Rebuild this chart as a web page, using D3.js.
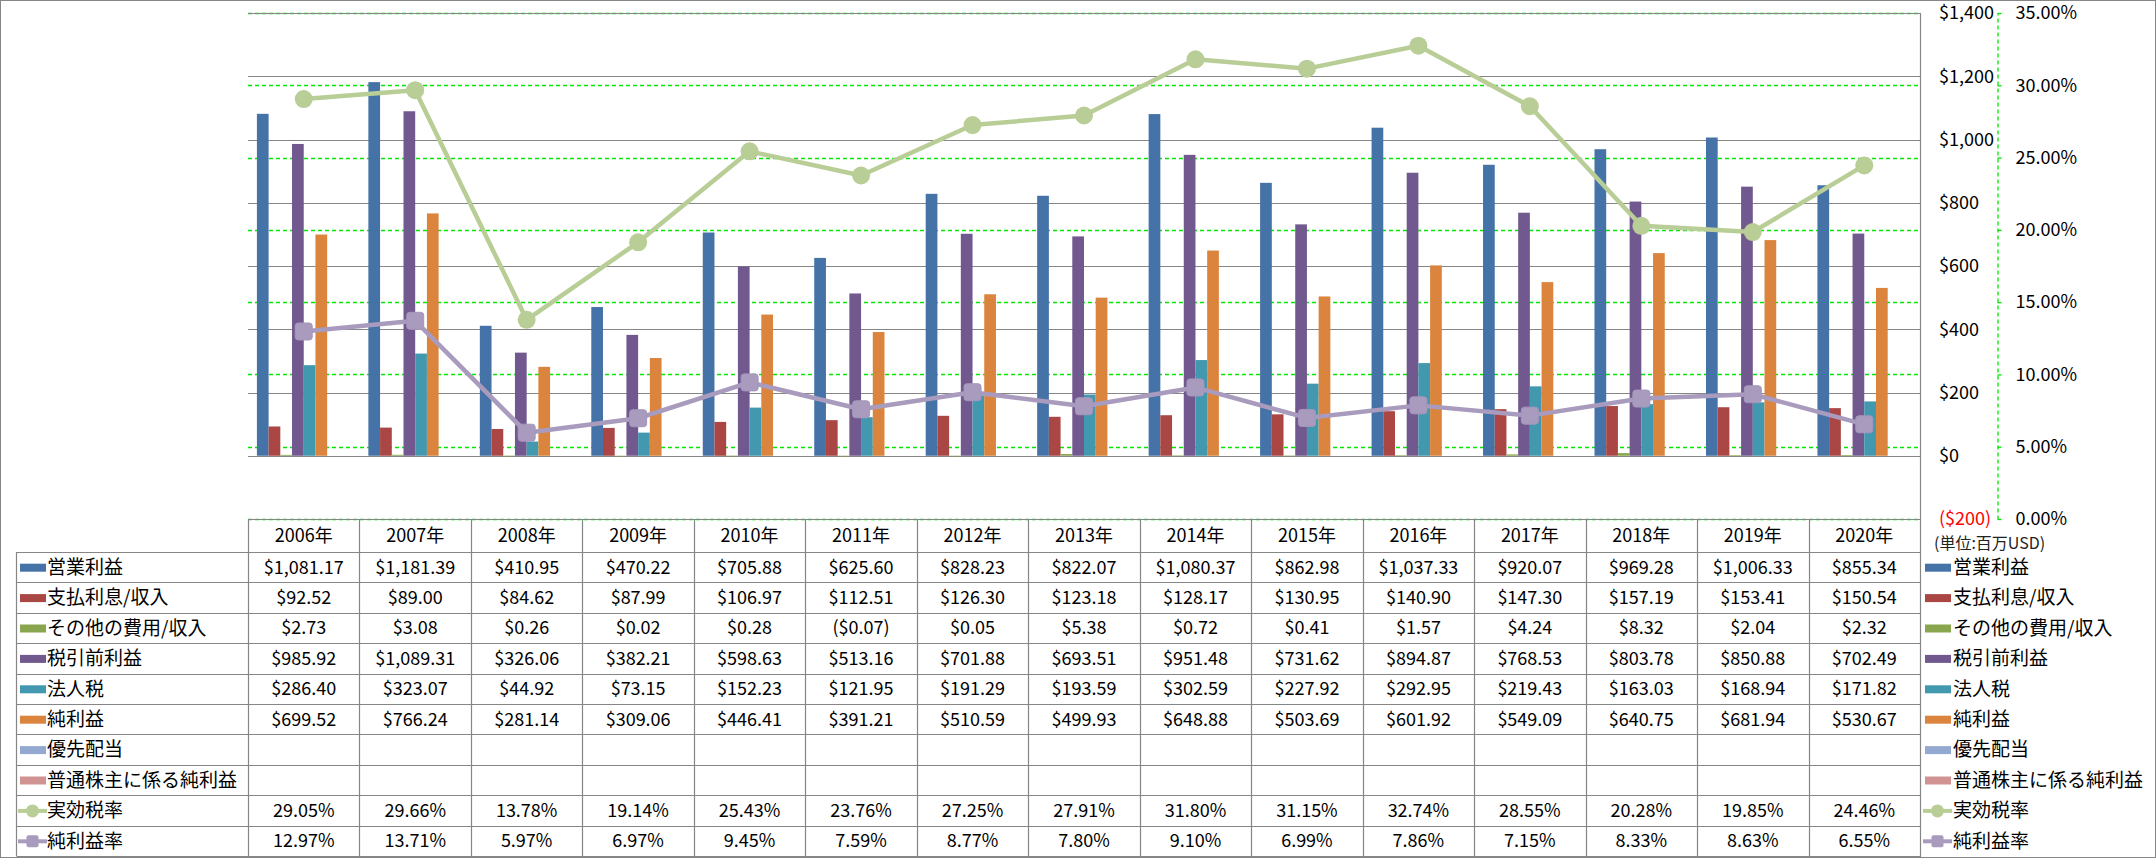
<!DOCTYPE html>
<html><head><meta charset="utf-8">
<script src="https://cdn.jsdelivr.net/npm/d3@7"></script>
<style>html,body{margin:0;padding:0;background:#fff;} svg{display:block;font-family:"Noto Sans CJK JP","Noto Sans",sans-serif;}</style>
</head><body><svg id="c" width="2156" height="858"></svg>
<script>
// ---------- DATA ----------
const years = ["2006年","2007年","2008年","2009年","2010年","2011年","2012年","2013年","2014年","2015年","2016年","2017年","2018年","2019年","2020年"];
const operatingIncome = [1081.17,1181.39,410.95,470.22,705.88,625.60,828.23,822.07,1080.37,862.98,1037.33,920.07,969.28,1006.33,855.34];
const interestExpense = [92.52,89.00,84.62,87.99,106.97,112.51,126.30,123.18,128.17,130.95,140.90,147.30,157.19,153.41,150.54];
const otherExpense = [2.73,3.08,0.26,0.02,0.28,-0.07,0.05,5.38,0.72,0.41,1.57,4.24,8.32,2.04,2.32];
const pretaxIncome = [985.92,1089.31,326.06,382.21,598.63,513.16,701.88,693.51,951.48,731.62,894.87,768.53,803.78,850.88,702.49];
const incomeTax = [286.40,323.07,44.92,73.15,152.23,121.95,191.29,193.59,302.59,227.92,292.95,219.43,163.03,168.94,171.82];
const netIncome = [699.52,766.24,281.14,309.06,446.41,391.21,510.59,499.93,648.88,503.69,601.92,549.09,640.75,681.94,530.67];
const preferredDividends = [null,null,null,null,null,null,null,null,null,null,null,null,null,null,null];
const netIncomeCommon = [null,null,null,null,null,null,null,null,null,null,null,null,null,null,null];
const effectiveTaxRate = [29.05,29.66,13.78,19.14,25.43,23.76,27.25,27.91,31.80,31.15,32.74,28.55,20.28,19.85,24.46];
const netMargin = [12.97,13.71,5.97,6.97,9.45,7.59,8.77,7.80,9.10,6.99,7.86,7.15,8.33,8.63,6.55];

const barNames = ["営業利益","支払利息/収入","その他の費用/収入","税引前利益","法人税","純利益","優先配当","普通株主に係る純利益"];
const barValues = [operatingIncome,interestExpense,otherExpense,pretaxIncome,incomeTax,netIncome,preferredDividends,netIncomeCommon];
const lineNames = ["実効税率","純利益率"];
const lineValues = [effectiveTaxRate,netMargin];
const leftTicks = [-200,0,200,400,600,800,1000,1200,1400];
const rightTicks = [0,5,10,15,20,25,30,35];
const unitLabel = "(単位:百万USD)";

// ---------- STYLE ----------
const barColors = ["#4572A7","#AA4643","#89A54E","#71588F","#4198AF","#DB843D","#93A9CF","#D19392"];
const lineColors = ["#B9CD96","#A99BBD"];
const gridGray = "#868686";
const dashGreen = "#00E800";

const svg = d3.select("#c");
const W = 2156, H = 858;
const plotL = 248, plotR = 1920, plotT = 13, plotB = 519;
const tableTop = 519, headerB = 552, rowH = 30.4, labelL = 16.5;

svg.append("rect").attr("x",0.5).attr("y",0.5).attr("width",W-1).attr("height",H-1)
  .attr("fill","#fff").attr("stroke",gridGray);

const x = d3.scaleBand().domain(years).range([plotL, plotR]).padding(0);
const y = d3.scaleLinear().domain([-200,1400]).range([plotB, plotT]);
const y2 = d3.scaleLinear().domain([0,35]).range([plotB, plotT]);
const xs = d3.scaleBand().domain(barNames).range([0, x.bandwidth()]).paddingInner(0).paddingOuter(0.76);

// green dashed secondary gridlines
svg.append("g").selectAll("line").data(rightTicks).join("line")
  .attr("x1",plotL).attr("x2",plotR)
  .attr("y1",d=>Math.round(y2(d))+0.5).attr("y2",d=>Math.round(y2(d))+0.5)
  .attr("stroke",dashGreen).attr("stroke-width",1.3).attr("stroke-dasharray","4,3");

// gray primary gridlines
svg.append("g").selectAll("line").data(leftTicks).join("line")
  .attr("x1",plotL).attr("x2",plotR)
  .attr("y1",d=>Math.round(y(d))+0.5).attr("y2",d=>Math.round(y(d))+0.5)
  .attr("stroke",gridGray).attr("stroke-width",1.2);

// plot right border
svg.append("line").attr("x1",plotR+0.5).attr("x2",plotR+0.5).attr("y1",plotT).attr("y2",H-1)
  .attr("stroke",gridGray).attr("stroke-width",1.2);

// bars
barNames.forEach((name,i)=>{
  const g = svg.append("g").attr("fill",barColors[i]);
  years.forEach((yr,j)=>{
    const v = barValues[i][j];
    if (v === null || v === undefined) return;
    const y0 = y(0), y1 = y(v);
    g.append("rect")
      .attr("x", x(yr)+xs(name))
      .attr("y", Math.min(y0,y1))
      .attr("width", xs.bandwidth())
      .attr("height", Math.max(Math.abs(y1-y0), 0.6));
  });
});

// lines
const cx = yr => x(yr) + x.bandwidth()/2;
lineNames.forEach((name,i)=>{
  const pts = years.map((yr,j)=>[cx(yr), y2(lineValues[i][j])]);
  svg.append("path").attr("d", d3.line()(pts)).attr("fill","none")
    .attr("stroke",lineColors[i]).attr("stroke-width",4.5).attr("stroke-linejoin","round");
  const g = svg.append("g").attr("fill",lineColors[i]);
  pts.forEach(p=>{
    if (i===0) g.append("circle").attr("cx",p[0]).attr("cy",p[1]).attr("r",9);
    else g.append("rect").attr("x",p[0]-8.5).attr("y",p[1]-8.5).attr("width",17).attr("height",17).attr("rx",3)
      .attr("stroke","#A596BC").attr("stroke-width",1);
  });
});

// primary axis (labels only)
const axL = svg.append("g").attr("transform",`translate(1939,0)`)
  .call(d3.axisRight(y).tickValues(leftTicks).tickSize(0).tickPadding(0).tickFormat(d3.format("($,.0f")));
axL.select(".domain").remove();
axL.selectAll("text").attr("font-size",18).attr("font-family","Noto Sans CJK JP")
  .attr("fill",d=>d<0?"#FF0000":"#000");

// secondary axis
const axR = svg.append("g").attr("transform",`translate(1997.5,0)`)
  .call(d3.axisRight(y2).tickValues(rightTicks).tickSizeInner(4).tickSizeOuter(0).tickPadding(14)
    .tickFormat(d=>d.toFixed(2)+"%"));
axR.select(".domain").attr("stroke",dashGreen).attr("stroke-width",1.3).attr("stroke-dasharray","4,3");
axR.selectAll(".tick line").attr("stroke",dashGreen).attr("stroke-width",1.3);
axR.selectAll("text").attr("font-size",18).attr("font-family","Noto Sans CJK JP").attr("fill","#000");

svg.append("text").attr("x",1934).attr("y",543).attr("dy","0.35em").attr("font-size",16).attr("fill","#222")
  .text(unitLabel);

// ---------- TABLE ----------
const tbl = svg.append("g");
const nRows = barNames.length + lineNames.length;
const tableB = headerB + rowH*nRows;
// header top
tbl.append("line").attr("x1",plotL).attr("x2",plotR).attr("y1",tableTop+0.5).attr("y2",tableTop+0.5)
  .attr("stroke",gridGray).attr("stroke-width",1.2);
// horizontal row lines
d3.range(nRows+1).forEach(k=>{
  const yy = Math.round(headerB + rowH*k) + 0.5;
  tbl.append("line").attr("x1",labelL).attr("x2",plotR).attr("y1",yy).attr("y2",yy)
    .attr("stroke",gridGray).attr("stroke-width",1.2);
});
// vertical lines
years.forEach(yr=>{
  const xx = Math.round(x(yr))+0.5;
  tbl.append("line").attr("x1",xx).attr("x2",xx).attr("y1",tableTop).attr("y2",tableB)
    .attr("stroke",gridGray).attr("stroke-width",1.2);
});
tbl.append("line").attr("x1",labelL).attr("x2",labelL).attr("y1",headerB).attr("y2",tableB)
  .attr("stroke",gridGray).attr("stroke-width",1.2);

// header text
years.forEach(yr=>{
  tbl.append("text").attr("x",cx(yr)).attr("y",(tableTop+headerB)/2).attr("dy","0.36em")
    .attr("text-anchor","middle").attr("font-size",18).attr("fill","#000").text(yr);
});

const moneyFmt = d3.format("($,.2f");
const rowNames = barNames.concat(lineNames);
const rowVals = barValues.concat(lineValues);
const rowColors = barColors.concat(lineColors);

function legendKey(g, k, x0, yc){
  if (k < barNames.length) {
    g.append("rect").attr("x",x0).attr("y",yc-3.5).attr("width",26).attr("height",8).attr("fill",rowColors[k]);
  } else {
    g.append("line").attr("x1",x0-2).attr("x2",x0+27).attr("y1",yc+0.5).attr("y2",yc+0.5)
      .attr("stroke",rowColors[k]).attr("stroke-width",4);
    if (k === barNames.length) g.append("circle").attr("cx",x0+12.5).attr("cy",yc+0.5).attr("r",6.5).attr("fill",rowColors[k]);
    else g.append("rect").attr("x",x0+6.5).attr("y",yc-5.5).attr("width",12).attr("height",12).attr("rx",2).attr("fill",rowColors[k]);
  }
}

rowNames.forEach((name,k)=>{
  const yc = headerB + rowH*k + rowH/2;
  legendKey(tbl, k, 20, yc);
  tbl.append("text").attr("x",47).attr("y",yc).attr("dy","0.36em").attr("font-size",19).attr("fill","#000").text(name);
  legendKey(tbl, k, 1925, yc);
  tbl.append("text").attr("x",1953).attr("y",yc).attr("dy","0.36em").attr("font-size",19).attr("fill","#000").text(name);
  years.forEach((yr,j)=>{
    const v = rowVals[k][j];
    if (v === null || v === undefined) return;
    const t = k < barNames.length ? moneyFmt(v) : v.toFixed(2)+"%";
    tbl.append("text").attr("x",cx(yr)).attr("y",yc).attr("dy","0.36em").attr("text-anchor","middle")
      .attr("font-size",18).attr("fill","#000").text(t);
  });
});
</script></body></html>
